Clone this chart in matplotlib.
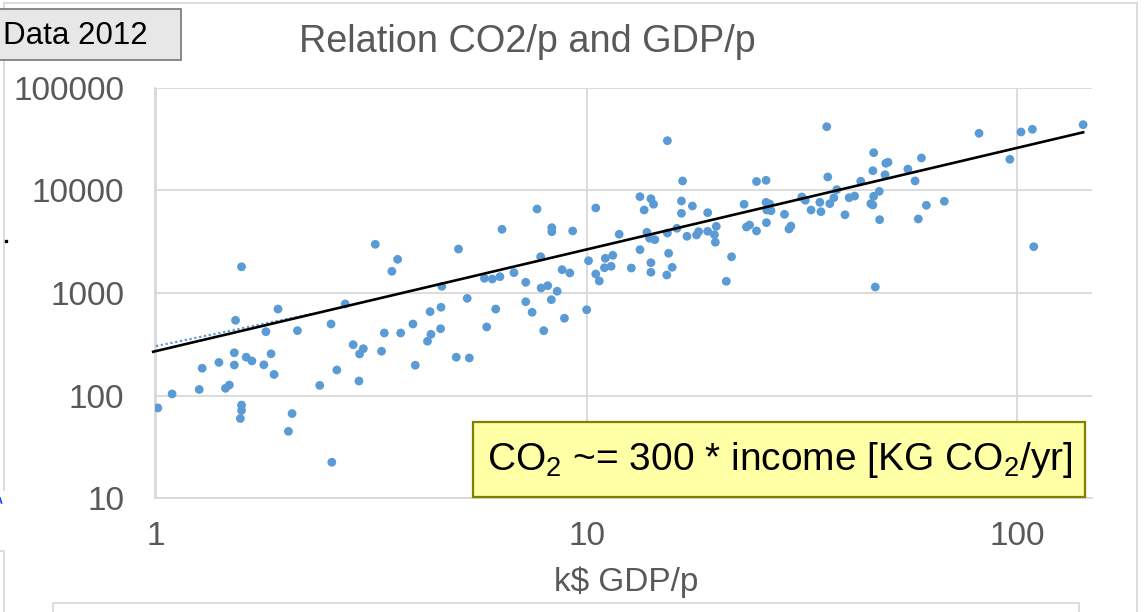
import matplotlib
matplotlib.use("Agg")
import matplotlib.pyplot as plt
from matplotlib.patches import Rectangle
from matplotlib.lines import Line2D
from matplotlib.ticker import FixedLocator, FixedFormatter, NullLocator

# ---------------- data ----------------
gdp_k = [1.01, 1.09, 1.26, 1.28, 1.40, 1.45, 1.48, 1.52, 1.52, 1.53,
         1.58, 1.58, 1.58, 1.57, 1.62, 1.67, 1.78, 1.80, 1.85, 1.88,
         1.92, 2.07, 2.03, 2.13, 2.40, 2.55, 2.56, 2.63, 2.75, 2.87,
         2.96, 2.97, 3.03, 3.23, 3.34, 3.39, 3.53, 3.64, 3.70, 3.95,
         4.00, 4.27, 4.33, 4.35, 4.58, 4.59, 4.61, 4.98, 5.04, 5.34,
         5.28, 5.79, 5.86, 6.04, 6.15, 6.29, 6.36, 6.78, 7.22, 7.22,
         7.47, 7.67, 7.82, 7.84, 7.95, 8.12, 8.30, 8.30, 8.28, 8.54,
         8.77, 8.88, 9.14, 9.28, 10.0, 10.1, 10.5, 10.5, 10.7, 11.0,
         11.05, 11.4, 11.5, 11.9, 12.7, 13.3, 13.3, 13.6, 13.8, 14.0,
         14.1, 14.1, 14.1, 14.3, 14.4, 15.4, 15.4, 15.35, 15.5, 15.8,
         16.2, 16.6, 16.6, 16.7, 17.1, 17.6, 18.0, 18.2, 19.1, 19.1,
         19.8, 19.9, 20.0, 21.1, 21.7, 23.2, 23.5, 23.9, 24.8, 24.8,
         26.1, 26.1, 26.6, 26.2, 26.8, 26.15, 28.8, 29.5, 29.8, 31.6,
         32.2, 33.2, 34.8, 35.0, 36.1, 36.3, 36.7, 37.5, 38.1, 39.8,
         40.7, 41.9, 43.3, 45.7, 46.2, 46.2, 46.4, 46.4, 47.8, 47.9,
         46.8, 49.3, 49.5, 50.1, 55.7, 57.9, 58.9, 59.9, 61.5, 67.7,
         81.5, 96.1, 102.0, 108.4, 109.2, 142.2]
co2_kg = [76, 104, 115, 185, 211, 118, 127, 262, 199, 542,
          1800, 81, 72, 60, 237, 218, 200, 420, 256, 161,
          698, 67, 45, 430, 126, 499, 22.5, 178, 782, 314,
          139, 255, 287, 2980, 271, 408, 1626, 2128, 408, 499,
          198, 339, 658, 396, 449, 726, 1161, 237, 2680, 233,
          887, 1390, 467, 1368, 698, 1442, 4169, 1578, 1271, 822,
          649, 6577, 2254, 1119, 430, 1178, 4325, 3953, 861, 1040,
          1687, 568, 1567, 4018, 687, 2061, 1531, 6730, 1309, 1762,
          2178, 1820, 2328, 3733, 1750, 2642, 8670, 6427, 3899, 3411,
          1972, 1592, 8280, 7311, 3304, 30400, 3837, 1497, 2438, 1779,
          4266, 5970, 7870, 12330, 3566, 7031, 3673, 3953, 6053, 3990,
          3698, 3119, 4457, 1300, 2254, 7311, 4394, 4593, 12190, 4018,
          12510, 7638, 7362, 6427, 6324, 4842, 5834, 4198, 4487, 8610,
          7998, 6427, 7638, 6190, 41590, 13490, 7413, 8470, 10140, 5780,
          8470, 8790, 12250, 7413, 7194, 15520, 23230, 8740, 9770, 5176,
          1143, 14190, 18320, 18750, 16100, 12330, 5260, 20650, 7145, 7816,
          35890, 20040, 36980, 39260, 2825, 43550]

trend_x = [0.985, 142.2]
trend_y = [268, 36700]
dotted_x = [1.0, 2.3]
dotted_y = [304, 627]

x_ticks = [1, 10, 100]
x_tick_labels = ["1", "10", "100"]
y_ticks = [10, 100, 1000, 10000, 100000]
y_tick_labels = ["10", "100", "1000", "10000", "100000"]

title_text = "Relation CO2/p and GDP/p"
xlabel_text = "k$ GDP/p"
note_text = "CO$_2$ ~= 300 * income [KG CO$_2$/yr]"
badge_text = "Data 2012"

# ---------------- figure ----------------
plt.rcParams["font.family"] = ["Liberation Sans", "DejaVu Sans"]
plt.rcParams["mathtext.fontset"] = "custom"
plt.rcParams["mathtext.rm"] = "Liberation Sans"
plt.rcParams["mathtext.it"] = "Liberation Sans:italic"
plt.rcParams["mathtext.bf"] = "Liberation Sans:bold"

W, H = 1146, 612
fig = plt.figure(figsize=(W / 100, H / 100), dpi=100)
fig.patch.set_facecolor("white")


def fx(px):
    return px / W


def fy(py):
    return 1 - py / H


GRAY_TXT = "#595959"
GRID = "#d9d9d9"

ax = fig.add_axes([fx(155), fy(498.4), fx(1092) - fx(155), fy(87.6) - fy(498.4)])
ax.set_xscale("log")
ax.set_yscale("log")
ax.set_xlim(0.9947, 149.1)
ax.set_ylim(10, 100000)

ax.xaxis.set_major_locator(FixedLocator(x_ticks))
ax.xaxis.set_major_formatter(FixedFormatter(x_tick_labels))
ax.yaxis.set_major_locator(FixedLocator(y_ticks))
ax.yaxis.set_major_formatter(FixedFormatter(y_tick_labels))
ax.xaxis.set_minor_locator(NullLocator())
ax.yaxis.set_minor_locator(NullLocator())

ax.grid(True, which="major", color=GRID, lw=1.3, zorder=0)
ax.set_axisbelow(True)
for s in ["top", "right"]:
    ax.spines[s].set_visible(False)
for s in ["left", "bottom"]:
    ax.spines[s].set_color(GRID)
    ax.spines[s].set_linewidth(1.3)
ax.tick_params(axis="both", length=0, labelsize=24, colors=GRAY_TXT)
ax.tick_params(axis="y", pad=22)
ax.tick_params(axis="x", pad=16)

ax.scatter(gdp_k, co2_kg, s=40, color="#5b9bd5", edgecolors="none", zorder=3)
ax.plot(dotted_x, dotted_y, color="#5b9bd5", lw=1.6, ls=(0, (1, 1.2)), zorder=4, clip_on=False)
ax.plot(trend_x, trend_y, color="black", lw=1.9, zorder=5, clip_on=False)

# title and x label
fig.text(fx(527), fy(51.7), title_text, ha="center", va="baseline", fontsize=27.3, color=GRAY_TXT)
fig.text(fx(626), fy(591), xlabel_text, ha="center", va="baseline", fontsize=24, color=GRAY_TXT)

# yellow note box
fig.patches.append(Rectangle((fx(473), fy(497)), fx(1085) - fx(473), fy(422) - fy(497),
                             transform=fig.transFigure, facecolor="#ffffa6",
                             edgecolor="#7f7f00", lw=1.6, zorder=6))
fig.text(fx(780), fy(470), note_text, ha="center", va="baseline", fontsize=28, color="black", zorder=7)

# slide remnants: frames and badge
frame = "#d9d9d9"
fig.lines.append(Line2D([fx(4), fx(1137)], [fy(2.5), fy(2.5)], transform=fig.transFigure, color=frame, lw=1.3))
fig.lines.append(Line2D([fx(1137), fx(1137)], [fy(2.5), fy(612)], transform=fig.transFigure, color=frame, lw=1.3))
fig.lines.append(Line2D([fx(4), fx(4)], [fy(2.5), fy(490)], transform=fig.transFigure, color=frame, lw=1.3))
fig.lines.append(Line2D([fx(0), fx(4), fx(4)], [fy(551), fy(551), fy(612)], transform=fig.transFigure, color=frame, lw=1.3))
fig.lines.append(Line2D([fx(53), fx(53), fx(1079), fx(1079)], [fy(612), fy(603), fy(603), fy(612)],
                        transform=fig.transFigure, color=frame, lw=1.3))
fig.lines.append(Line2D([fx(6)], [fy(241)], transform=fig.transFigure, color="black", marker="s", ms=1.5, lw=0))
fig.lines.append(Line2D([fx(0), fx(1.5)], [fy(498), fy(503)], transform=fig.transFigure, color="#1f3fff", lw=1.2))

fig.patches.append(Rectangle((fx(-40), fy(60)), fx(181) - fx(-40), fy(9) - fy(60),
                             transform=fig.transFigure, facecolor="#e7e7e7",
                             edgecolor="#7f7f7f", lw=1.3, zorder=6))
fig.text(fx(148), fy(44), badge_text, ha="right", va="baseline", fontsize=22.5, color="black", zorder=7)

fig.savefig("out.png", dpi=100, facecolor="white")
